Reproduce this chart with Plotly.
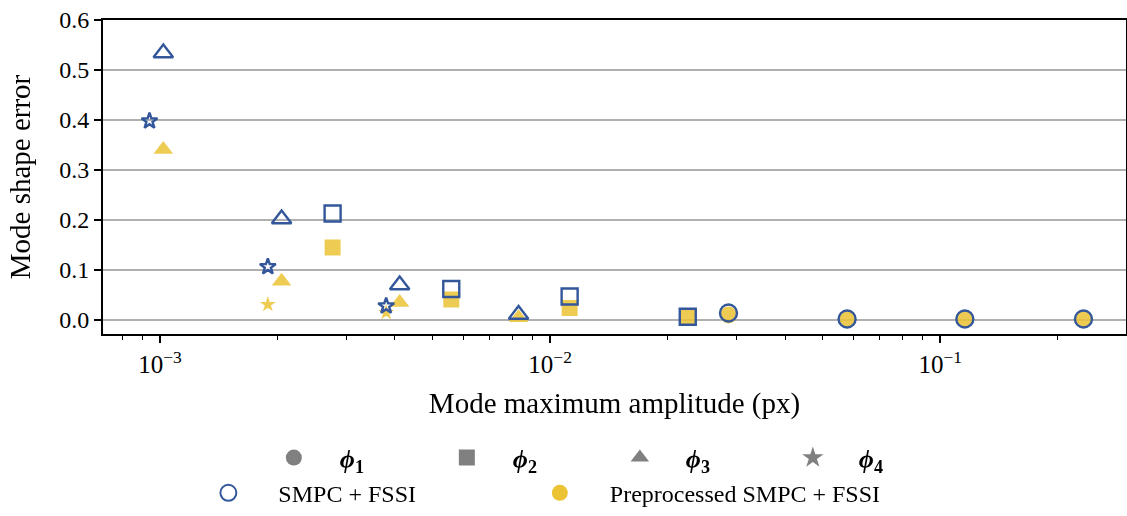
import plotly.graph_objects as go

# mode maximum amplitude (px) and mode shape error, per mode
phi1_amp = [0.02865, 0.0577, 0.1156, 0.2328]
phi1_smpc = [0.014, 0.002, 0.002, 0.002]
phi1_pre = [0.010, 0.002, 0.002, 0.002]

phi2_amp = [0.00277, 0.00558, 0.01122, 0.02253]
phi2_smpc = [0.213, 0.062, 0.047, 0.0065]
phi2_pre = [0.145, 0.041, 0.024, 0.004]

phi3_amp = [0.00102, 0.00205, 0.004115, 0.0083]
phi3_smpc = [0.534, 0.202, 0.070, 0.011]
phi3_pre = [0.341, 0.0775, 0.035, 0.0045]

phi4_amp = [0.00094, 0.00189, 0.0038]
phi4_smpc = [0.398, 0.1065, 0.028]
phi4_pre = [None, 0.031, 0.015]

symbols = ["circle", "square", "triangle-up", "star"]
sizes = [17, 16, 17, 12]

BLUE = "#33579A"
YELLOW = "#EBC334"
GRAY = "#808080"
FONT = "Liberation Serif"
NB = "\u00a0"

modes = [
    (phi1_amp, phi1_smpc, phi1_pre),
    (phi2_amp, phi2_smpc, phi2_pre),
    (phi3_amp, phi3_smpc, phi3_pre),
    (phi4_amp, phi4_smpc, phi4_pre),
]

fig = go.Figure()

# preprocessed first (drawn underneath)
for (amp, smpc, pre), sym, sz in zip(modes, symbols, sizes):
    fig.add_trace(go.Scatter(
        x=amp, y=pre, mode="markers", showlegend=False, opacity=0.85,
        marker=dict(symbol=sym, size=sz, color=YELLOW, line=dict(width=0)),
    ))
for (amp, smpc, pre), sym, sz in zip(modes, symbols, sizes):
    fig.add_trace(go.Scatter(
        x=amp, y=smpc, mode="markers", showlegend=False,
        marker=dict(symbol=sym + "-open", size=sz, color=BLUE, line=dict(width=2.4)),
    ))

# legend: shapes
for i, sym in enumerate(symbols):
    fig.add_trace(go.Scatter(
        x=[None], y=[None], mode="markers", legend="legend",
        name=NB * 4 + "<b><i>ϕ</i><sub>%d</sub></b>" % (i + 1),
        marker=dict(symbol=sym, size=20, color=GRAY),
    ))
# legend: methods
fig.add_trace(go.Scatter(
    x=[None], y=[None], mode="markers", legend="legend2",
    name=NB * 5 + "SMPC + FSSI",
    marker=dict(symbol="circle-open", size=20, color=BLUE, line=dict(width=2)),
))
fig.add_trace(go.Scatter(
    x=[None], y=[None], mode="markers", legend="legend3",
    name=NB * 5 + "Preprocessed SMPC + FSSI",
    marker=dict(symbol="circle", size=20, color=YELLOW),
))

minor_vals = [m * 10 ** e for e in (-4, -3, -2, -1) for m in range(2, 10)]

leg_common = dict(orientation="h", xanchor="left", yanchor="middle",
                  itemsizing="trace", bgcolor="rgba(0,0,0,0)")

fig.update_layout(
    width=1127, height=516,
    margin=dict(l=103, r=1, t=20, b=178),
    plot_bgcolor="white", paper_bgcolor="white",
    font=dict(family=FONT, size=24, color="black"),
    xaxis=dict(
        type="log", range=[-3.146, -0.524], automargin=False,
        tickvals=[1e-3, 1e-2, 1e-1],
        ticktext=["10<sup>−3</sup>", "10<sup>−2</sup>", "10<sup>−1</sup>"],
        tickfont=dict(size=25),
        ticks="outside", ticklen=7, tickwidth=1.5, tickcolor="black",
        showline=True, linecolor="black", linewidth=2, mirror=True,
        showgrid=False, zeroline=False,
        minor=dict(tickvals=minor_vals, ticks="outside", ticklen=4, tickwidth=1.2,
                   tickcolor="black", showgrid=False),
        title=dict(text="Mode maximum amplitude (px)", standoff=16),
    ),
    yaxis=dict(
        range=[-0.028, 0.6], tickvals=[0, 0.1, 0.2, 0.3, 0.4, 0.5, 0.6],
        tickformat=".1f", automargin=False,
        ticks="outside", ticklen=7, tickwidth=1.5, tickcolor="black",
        showline=True, linecolor="black", linewidth=2, mirror=True,
        showgrid=True, gridcolor="#b0b0b0", gridwidth=1.5, zeroline=False,
        title=dict(text="Mode shape error", standoff=20),
    ),
    legend=dict(x=0.167, y=-0.394, entrywidth=128, entrywidthmode="pixels",
                font=dict(size=26), **leg_common),
    legend2=dict(x=0.103, y=-0.507, font=dict(size=24), **leg_common),
    legend3=dict(x=0.427, y=-0.507, font=dict(size=24), **leg_common),
)

fig.write_html("out.html", config={"displayModeBar": False},
               post_script="document.body.style.margin='0px';")
